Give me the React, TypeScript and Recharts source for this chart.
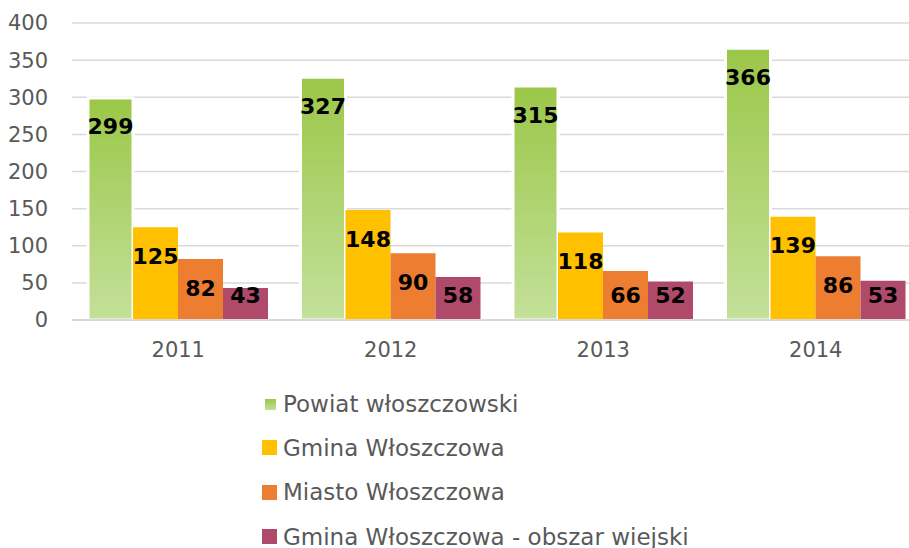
import { BarChart, Bar, XAxis, YAxis, CartesianGrid, Legend } from 'recharts'

const years = ['2011', '2012', '2013', '2014']
const powiat = [299, 327, 315, 366]
const gmina = [125, 148, 118, 139]
const miasto = [82, 90, 66, 86]
const wies = [43, 58, 52, 53]
const yTicks = [0, 50, 100, 150, 200, 250, 300, 350, 400]

const seriesNames = [
  'Powiat włoszczowski',
  'Gmina Włoszczowa',
  'Miasto Włoszczowa',
  'Gmina Włoszczowa - obszar wiejski',
]

const data = years.map((year, i) => ({
  year,
  powiat: powiat[i],
  gmina: gmina[i],
  miasto: miasto[i],
  wies: wies[i],
}))

const FONT = '"DejaVu Sans", sans-serif'
const GREY = '#595959'

function renderLabel(props: any) {
  const { x, y, width, height, value } = props
  const cy = Math.min(y + 29, y + height - 25)
  return (
    <text
      x={x + width / 2}
      y={cy}
      textAnchor="middle"
      dominantBaseline="central"
      fontSize={22}
      fontWeight="bold"
      fontFamily={FONT}
      fill="#000"
    >
      {value}
    </text>
  )
}

const legendColors = ['url(#greenGradLegend)', '#FFC000', '#ED7D31', '#B04A6A']

function renderLegend() {
  return (
    <div style={{ fontFamily: FONT, color: GREY, fontSize: 23, lineHeight: 1 }}>
      {seriesNames.map((name, i) => (
        <div key={name} style={{ display: 'flex', alignItems: 'center', height: 44.3 }}>
          <svg width={21} height={16}>
            {i === 0 ? (
              <rect x={3} y={3} width={11} height={11} fill={legendColors[0]} />
            ) : (
              <rect x={0} y={0} width={15} height={15} fill={legendColors[i]} />
            )}
          </svg>
          <span>{name}</span>
        </div>
      ))}
    </div>
  )
}

export default function App() {
  return (
    <div style={{ position: 'absolute', top: 0, left: 0, width: 909, height: 548, overflow: 'hidden', background: '#fff' }}>
      <svg width={0} height={0} style={{ position: 'absolute' }}>
        <defs>
          <linearGradient id="greenGradLegend" x1="0" y1="0" x2="0" y2="1">
            <stop offset="0%" stopColor="#9BC748" />
            <stop offset="100%" stopColor="#C4E09A" />
          </linearGradient>
        </defs>
      </svg>
      <BarChart
        width={922}
        height={548}
        data={data}
        margin={{ top: 23, right: 0, bottom: 198, left: 0 }}
        barGap={0}
        barCategoryGap={16}
        style={{ fontFamily: FONT }}
      >
        <defs>
          <linearGradient id="greenGrad" x1="0" y1="0" x2="0" y2="1">
            <stop offset="0%" stopColor="#9BC748" />
            <stop offset="100%" stopColor="#C4E09A" />
          </linearGradient>
        </defs>
        <CartesianGrid vertical={false} stroke="#D9D9D9" strokeWidth={1.5} />
        <XAxis
          dataKey="year"
          height={30}
          tickLine={false}
          tickSize={0}
          tickMargin={22}
          axisLine={{ stroke: '#D9D9D9', strokeWidth: 2 }}
          tick={{ fill: GREY, fontSize: 21, fontFamily: FONT }}
        />
        <YAxis
          width={72}
          domain={[0, 400]}
          ticks={yTicks}
          tickLine={false}
          tickSize={0}
          tickMargin={24}
          axisLine={false}
          tick={{ fill: GREY, fontSize: 21, fontFamily: FONT }}
        />
        <Legend
          layout="vertical"
          align="center"
          verticalAlign="middle"
          wrapperStyle={{ top: 382, left: 262, width: 520 }}
          content={renderLegend}
        />
        <Bar dataKey="powiat" name={seriesNames[0]} fill="url(#greenGrad)" stroke="#fff" strokeWidth={3} isAnimationActive={false} label={renderLabel} />
        <Bar dataKey="gmina" name={seriesNames[1]} fill="#FFC000" isAnimationActive={false} label={renderLabel} />
        <Bar dataKey="miasto" name={seriesNames[2]} fill="#ED7D31" isAnimationActive={false} label={renderLabel} />
        <Bar dataKey="wies" name={seriesNames[3]} fill="#B04A6A" isAnimationActive={false} label={renderLabel} />
      </BarChart>
    </div>
  )
}
